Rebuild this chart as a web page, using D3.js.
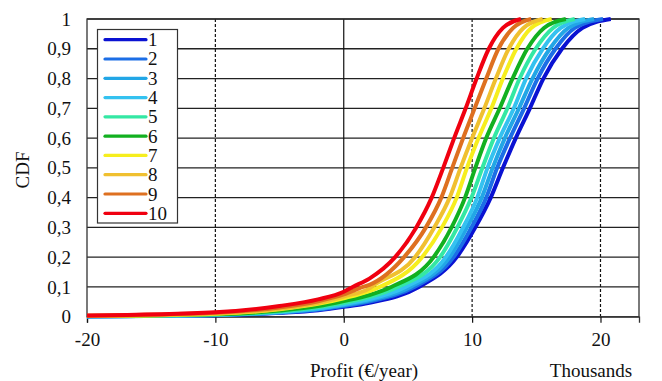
<!DOCTYPE html>
<html>
<head>
<meta charset="utf-8">
<script src="https://cdn.jsdelivr.net/npm/d3@7"></script>
<style>
html,body{margin:0;padding:0;background:#fff;}
svg{display:block;}
</style>
</head>
<body>
<svg id="chart" width="662" height="381"></svg>
<script>
// ---- data (profit in thousands of €/year) ----
const seriesNames = ["1","2","3","4","5","6","7","8","9","10"];
const seriesColors = ["#0a12d2","#1c6ee6","#22a6e6","#34c2f0","#34e8a4","#12b020","#f6ee1e","#f0c030","#de7020","#f00010"];
const xTicks = [-20, -10, 0, 10, 20];
const yTicks = [0,0.1,0.2,0.3,0.4,0.5,0.6,0.7,0.8,0.9,1];
const yTickLabels = ["0","0,1","0,2","0,3","0,4","0,5","0,6","0,7","0,8","0,9","1"];

// lower tail: CDF value at fixed profits
const tailProfit = [-20, -10, -5, -2, 0, 2];
const tailCdf1  = [0.001, 0.005, 0.013, 0.022, 0.033, 0.047];
const tailCdf2  = [0.001, 0.005, 0.014, 0.024, 0.036, 0.051];
const tailCdf3  = [0.001, 0.006, 0.015, 0.026, 0.039, 0.055];
const tailCdf4  = [0.001, 0.006, 0.016, 0.028, 0.042, 0.059];
const tailCdf5  = [0.002, 0.007, 0.018, 0.032, 0.047, 0.066];
const tailCdf6  = [0.002, 0.008, 0.021, 0.036, 0.053, 0.073];
const tailCdf7  = [0.002, 0.010, 0.025, 0.043, 0.062, 0.086];
const tailCdf8  = [0.003, 0.011, 0.027, 0.046, 0.068, 0.095];
const tailCdf9  = [0.003, 0.013, 0.031, 0.052, 0.075, 0.107];
const tailCdf10 = [0.004, 0.015, 0.036, 0.058, 0.084, 0.128];

// body: profit at fixed CDF levels
const cdfLevels = [0.1, 0.2, 0.3, 0.4, 0.5, 0.6, 0.7, 0.8, 0.9, 0.97, 1.0];
const profit1  = [5.85, 8.8, 10.25, 11.45, 12.4, 13.4, 14.5, 15.55, 17.0, 18.6, 20.8];
const profit2  = [5.5, 8.55, 9.95, 11.1, 11.95, 12.95, 14.05, 15.1, 16.5, 18.0, 20.2];
const profit3  = [5.2, 8.25, 9.6, 10.75, 11.6, 12.55, 13.65, 14.7, 16.05, 17.5, 19.5];
const profit4  = [4.8, 7.95, 9.3, 10.4, 11.2, 12.15, 13.25, 14.2, 15.5, 16.9, 18.8];
const profit5  = [4.2, 7.5, 8.85, 9.95, 10.8, 11.7, 12.75, 13.7, 14.95, 16.3, 18.0];
const profit6  = [3.7, 7.0, 8.4, 9.45, 10.25, 11.1, 12.15, 13.15, 14.3, 15.6, 17.3];
const profit7  = [2.8, 6.1, 7.65, 8.8, 9.6, 10.5, 11.5, 12.4, 13.45, 14.6, 16.2];
const profit8  = [2.15, 5.55, 7.05, 8.25, 9.1, 10.0, 10.95, 11.85, 12.85, 14.0, 15.5];
const profit9  = [1.5, 4.7, 6.4, 7.6, 8.45, 9.3, 10.2, 11.1, 12.05, 13.2, 14.6];
const profit10 = [0.7, 4.0, 5.65, 6.85, 7.75, 8.6, 9.5, 10.35, 11.3, 12.4, 13.8];

const tails = [tailCdf1,tailCdf2,tailCdf3,tailCdf4,tailCdf5,tailCdf6,tailCdf7,tailCdf8,tailCdf9,tailCdf10];
const bodies = [profit1,profit2,profit3,profit4,profit5,profit6,profit7,profit8,profit9,profit10];

// ---- layout ----
const FONT = "'Liberation Serif', 'Times New Roman', Times, 'DejaVu Serif', serif";
const svg = d3.select("#chart");
const pLeft = 87, pRight = 639, pTop = 19, pBottom = 316.7;
const x = d3.scaleLinear().domain([-20, 23]).range([pLeft, pRight]);
const y = d3.scaleLinear().domain([0, 1]).range([pBottom, pTop]);

// horizontal gridlines
svg.append("g").selectAll("line").data(yTicks.slice(1)).join("line")
  .attr("x1", pLeft).attr("x2", pRight)
  .attr("y1", d => y(d)).attr("y2", d => y(d))
  .attr("stroke", "#222").attr("stroke-width", 1.3);

// vertical gridlines (dashed), axis at 0 solid
svg.append("g").selectAll("line").data(xTicks.filter(d => d !== -20 && d !== 0)).join("line")
  .attr("x1", d => x(d)).attr("x2", d => x(d))
  .attr("y1", pTop).attr("y2", pBottom)
  .attr("stroke", "#111").attr("stroke-width", 1.2).attr("stroke-dasharray", "3,2");
svg.append("line")
  .attr("x1", x(0)).attr("x2", x(0)).attr("y1", pTop).attr("y2", pBottom)
  .attr("stroke", "#111").attr("stroke-width", 1.2);

// plot border
svg.append("rect").attr("x", pLeft).attr("y", pTop)
  .attr("width", pRight - pLeft).attr("height", pBottom - pTop)
  .attr("fill", "none").attr("stroke", "#333").attr("stroke-width", 1.3);

// x axis
const xAxis = d3.axisBottom(x).tickValues(xTicks).tickSize(6).tickPadding(10).tickFormat(d => String(d));
const gx = svg.append("g").attr("transform", `translate(0,${pBottom})`).call(xAxis);
gx.attr("font-family", null).attr("font-size", null);
gx.select(".domain").attr("stroke", "#333").attr("stroke-width", 1.3);
gx.selectAll(".tick line").attr("stroke", "#111").attr("stroke-width", 1.2);
gx.selectAll(".tick text").style("font-family", FONT).style("font-size", "19px").attr("fill", "#111");

// y axis
const yAxis = d3.axisLeft(y).tickValues(yTicks).tickSize(0).tickPadding(16)
  .tickFormat((d, i) => yTickLabels[i]);
const gy = svg.append("g").attr("transform", `translate(${pLeft},0)`).call(yAxis);
gy.attr("font-family", null).attr("font-size", null);
gy.select(".domain").remove();
gy.selectAll(".tick text").style("font-family", FONT).style("font-size", "19px").attr("fill", "#111");

// curves
const line = d3.line().x(d => x(d[0])).y(d => y(d[1])).curve(d3.curveMonotoneX);
const seriesData = seriesNames.map((n, i) => {
  const pts = tailProfit.map((p, j) => [p, tails[i][j]])
    .concat(cdfLevels.map((c, j) => [bodies[i][j], c]));
  pts.sort((a, b) => a[0] - b[0]);
  return pts;
});
svg.append("clipPath").attr("id", "clip").append("rect")
  .attr("x", pLeft).attr("y", pTop - 2).attr("width", pRight - pLeft).attr("height", pBottom - pTop + 4);
svg.append("g").attr("clip-path", "url(#clip)")
  .selectAll("path").data(seriesData).join("path")
  .attr("d", line)
  .attr("fill", "none")
  .attr("stroke", (d, i) => seriesColors[i])
  .attr("stroke-width", 4)
  .attr("stroke-linejoin", "round");

// legend
const lg = svg.append("g");
lg.append("rect").attr("x", 97.5).attr("y", 29.5).attr("width", 80).attr("height", 193.5)
  .attr("fill", "#fff").attr("stroke", "#333").attr("stroke-width", 1.2);
const rowY = d3.scaleLinear().domain([0, 9]).range([39.7, 213.3]);
const rows = lg.selectAll("g.row").data(seriesNames).join("g").attr("class", "row")
  .attr("transform", (d, i) => `translate(0,${rowY(i)})`);
rows.append("line").attr("x1", 105).attr("x2", 146).attr("y1", 0).attr("y2", 0)
  .attr("stroke", (d, i) => seriesColors[i]).attr("stroke-width", 3.2).attr("stroke-linecap", "round");
rows.append("text").attr("x", 148).attr("y", 6.5)
  .style("font-family", FONT).style("font-size", "19px").attr("fill", "#111").text(d => d);

// axis titles
svg.append("text").attr("transform", "translate(29,170) rotate(-90)")
  .attr("text-anchor", "middle").style("font-family", FONT).style("font-size", "19px").attr("fill", "#111").text("CDF");
svg.append("text").attr("x", 364).attr("y", 377).attr("text-anchor", "middle")
  .style("font-family", FONT).style("font-size", "19px").attr("fill", "#111").text("Profit (€/year)");
svg.append("text").attr("x", 591).attr("y", 377).attr("text-anchor", "middle")
  .style("font-family", FONT).style("font-size", "19px").attr("fill", "#111").text("Thousands");
</script>
</body>
</html>
